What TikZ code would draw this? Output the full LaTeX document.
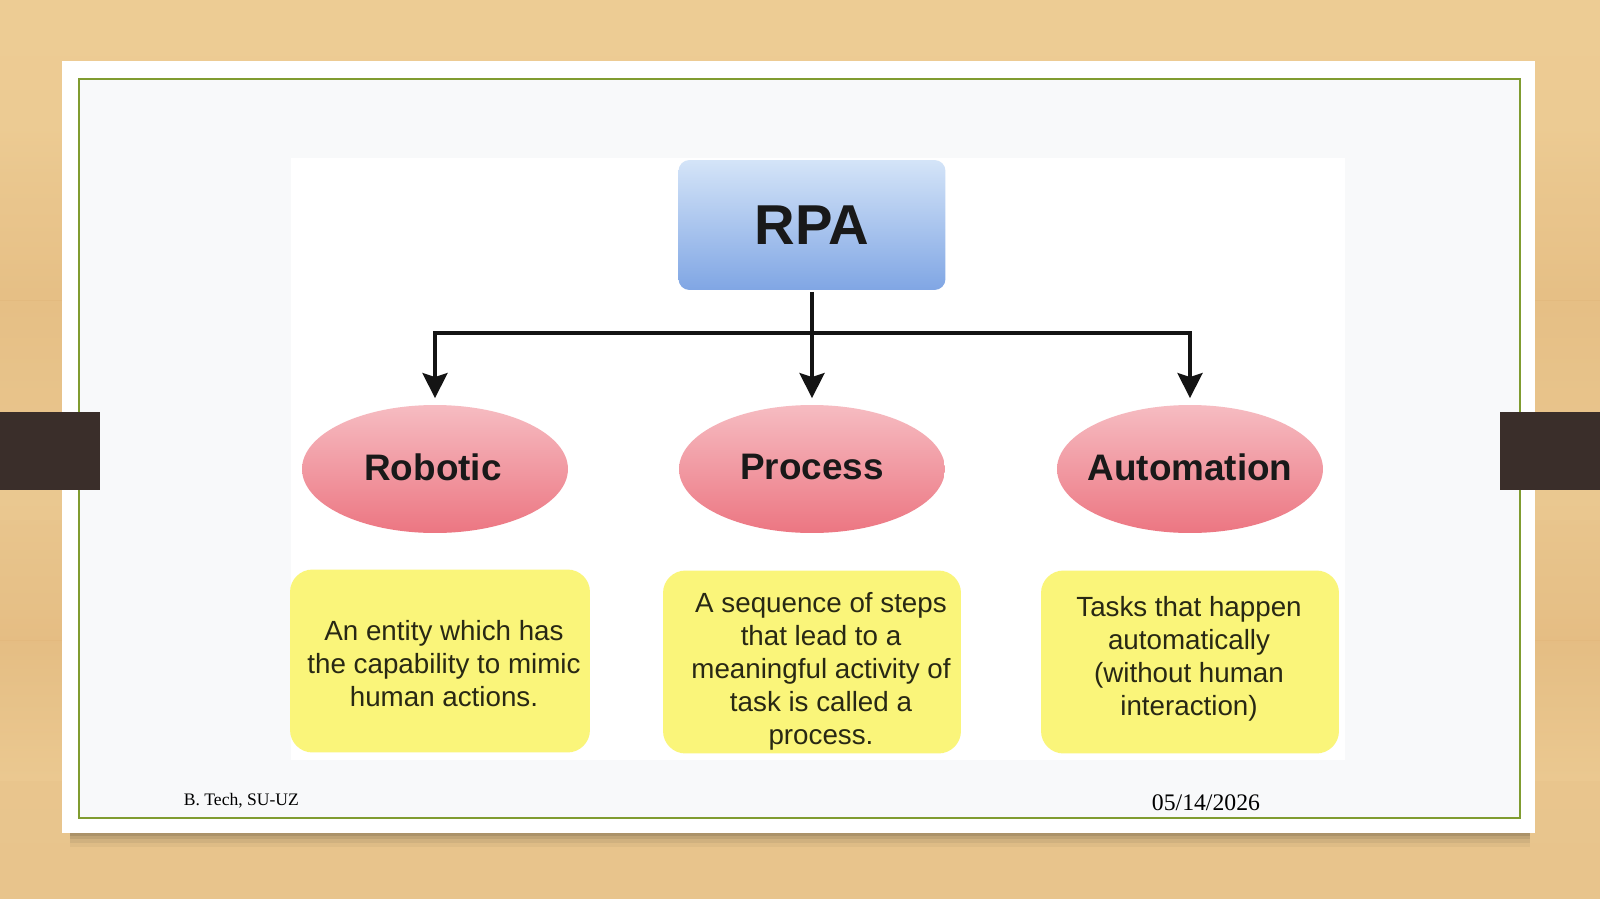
\documentclass[tikz,border=0pt]{standalone}
\usepackage{fontspec}
\setmainfont{Liberation Serif}
\newfontfamily\diagfont{Liberation Sans}
\usetikzlibrary{arrows.meta,shapes.geometric}

\definecolor{woodbase}{RGB}{232,196,140}
\definecolor{wooddark}{RGB}{226,182,122}
\definecolor{woodlight}{RGB}{237,204,148}
\definecolor{cardfill}{RGB}{248,249,250}
\definecolor{frameline}{RGB}{128,156,48}
\definecolor{tabbrown}{RGB}{58,46,42}
\definecolor{rpatop}{RGB}{212,228,248}
\definecolor{rpabot}{RGB}{128,166,228}
\definecolor{elltop}{RGB}{246,188,194}
\definecolor{ellbot}{RGB}{236,118,130}
\definecolor{noteyellow}{RGB}{250,245,122}
\definecolor{notetext}{RGB}{40,40,20}

\begin{document}
\begin{tikzpicture}[x=0.02cm,y=-0.02cm,line width=2.2pt,
  rpabox/.style={draw=none,rounded corners=0.22cm,top color=rpatop,bottom color=rpabot,
    minimum width=5.34cm,minimum height=2.6cm,font=\diagfont\fontsize{32}{36}\bfseries\selectfont,
    text=black!90},
  word/.style={ellipse,draw=none,top color=elltop,bottom color=ellbot,
    minimum width=5.32cm,minimum height=2.56cm,inner sep=0pt},
  wordtext/.style={font=\diagfont\fontsize{21}{24}\bfseries\selectfont,text=black!90},
  notebox/.style={draw=none,fill=noteyellow,rounded corners=0.45cm,
    minimum height=3.66cm},
  notetxt/.style={font=\diagfont\fontsize{15.8}{18.8}\selectfont,text=notetext,
    align=center,inner sep=0pt},
  link/.style={draw=black!92,line width=2.2pt},
  arr/.style={link,-{Stealth[length=0.5cm,width=0.5cm,inset=0.08cm]},shorten >=0.1cm},
  foot/.style={anchor=base west,inner sep=0pt,text=black}]
% ---------- background ----------
\useasboundingbox (0,0) rectangle (1600,899);
\shade[top color=woodlight,bottom color=woodbase] (0,0) rectangle (1600,899);
\shade[top color=woodlight,bottom color=wooddark,opacity=0.5] (0,120) rectangle (1600,300);
\shade[top color=wooddark,bottom color=woodbase,opacity=0.5] (0,300) rectangle (1600,450);
\shade[top color=woodbase,bottom color=wooddark,opacity=0.5] (0,520) rectangle (1600,640);
\shade[top color=wooddark,bottom color=woodlight,opacity=0.5] (0,640) rectangle (1600,780);
% ---------- slide card ----------
\foreach \s/\o in {14/0.04,10/0.06,6/0.08,3/0.1}
  \fill[black,opacity=\o] (70,833) rectangle (1530,833+\s);
\fill[white] (62,61) rectangle (1535,833);
\fill[cardfill] (79,79) rectangle (1520,818);
\draw[frameline,line width=1.4pt] (79,79) rectangle (1520,818);
\fill[white] (291,158) rectangle (1345,760);
% side tabs
\fill[tabbrown] (0,412) rectangle (100,490);
\fill[tabbrown] (1500,412) rectangle (1600,490);
% ---------- diagram ----------
\node[rpabox] (rpa) at (812,225) {RPA};
\node[word] (robotic) at (435,469) {};
\node[word] (process) at (812,469) {};
\node[word] (automation) at (1190,469) {};
\node[wordtext] (roboticlbl) at (433,467) {Robotic};
\node[wordtext] (processlbl) at (812,467) {Process};
\node[wordtext] (automationlbl) at (1190,467) {Automation};
\coordinate (split) at (812,333);
\draw[link] (rpa.south) -- (split);
\draw[arr] (split) -| (robotic.north);
\draw[arr] (split) -- (process.north);
\draw[arr] (split) -| (automation.north);
% notes
\node[notebox,minimum width=6cm] (robnote) at (440,661) {};
\node[notebox,minimum width=5.96cm] (procnote) at (812,662) {};
\node[notebox,minimum width=5.96cm] (autonote) at (1190,662) {};
\node[notetxt] (robtxt) at (444,664) {An entity which has\\the capability to mimic\\human actions.};
\node[notetxt] (proctxt) at (821,671) {A sequence of steps\\that lead to a\\meaningful activity of\\task is called a\\process.};
\node[notetxt] (autotxt) at (1189,659) {Tasks that happen\\automatically\\(without human\\interaction)};
% ---------- footer ----------
\node[foot,font=\fontsize{10}{12}\selectfont] (author) at (182,805) {B. Tech, SU-UZ};
\node[foot,font=\fontsize{13.5}{16}\selectfont] (date) at (1150,810) {05/14/2026};
\end{tikzpicture}
\end{document}
